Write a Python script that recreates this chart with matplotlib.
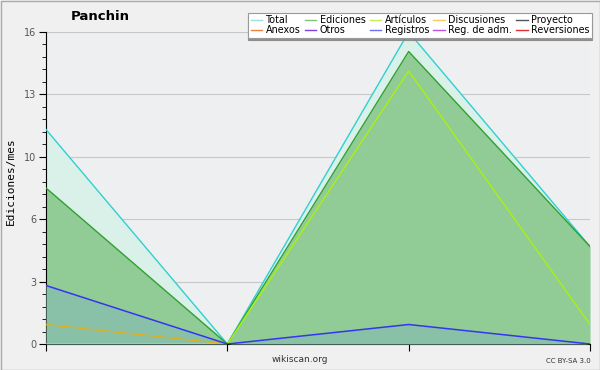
import matplotlib
matplotlib.use("Agg")
import matplotlib.pyplot as plt
from matplotlib.lines import Line2D
from matplotlib.patches import Rectangle
import numpy as np

title = "Panchin"
ylabel = "Ediciones/mes"
x = [0, 1, 2, 3]
total = [11, 0, 16, 5]
ediciones = [8, 0, 15, 5]
articulos = [0, 0, 14, 1]
discusiones = [1, 0, 0, 0]
registros = [3, 0, 1, 0]
ytick_vals = [0, 3.2, 6.4, 9.6, 12.8, 16]
ytick_labels = ["0", "3", "6", "10", "13", "16"]
legend_labels = ["Total", "Ediciones", "Artículos", "Discusiones", "Proyecto",
                 "Anexos", "Otros", "Registros", "Reg. de adm.", "Reversiones"]
legend_colors = ["#9fdfdf", "#7fc47f", "#c4ee5a", "#f4cc5a", "#555555",
                 "#f08040", "#8040e0", "#7070f0", "#c050e0", "#e03030"]

fig = plt.figure(figsize=(6, 3.7), dpi=100, facecolor="#f0f0f0")
ax = fig.add_axes([46/600, 26/370, 544/600, 312/370])
ax.set_facecolor("#eeeff1")

ax.fill_between(x, 0, total, color="#d9f1e9", zorder=1, lw=0)
ax.fill_between(x, 0, ediciones, color="#91cc96", zorder=2, lw=0)
ax.fill_between(x, 0, registros, color="#88c0a8", zorder=3, lw=0)

ax.plot(x, total, color="#30d0d0", lw=1, zorder=5)
ax.plot(x, ediciones, color="#30a030", lw=1, zorder=5)
ax.plot(x, articulos, color="#aaf010", lw=1, zorder=6)
ax.plot(x, discusiones, color="#e0b020", lw=1, zorder=6)
ax.plot(x, registros, color="#3535ee", lw=1.1, zorder=7)

ax.set_xlim(0, 3)
ax.set_ylim(0, 16)
ax.set_xticks(x)
ax.set_xticklabels([])
ax.set_yticks(ytick_vals)
ax.set_yticklabels(ytick_labels)
ax.set_yticks(np.arange(0, 16.01, 0.64), minor=True)
ax.tick_params(axis="y", which="major", length=5, labelsize=7, labelcolor="#555555", pad=2)
ax.tick_params(axis="y", which="minor", length=3)
ax.tick_params(axis="x", which="major", length=5, direction="out")
ax.grid(axis="y", which="major", color="#c8c8c8", lw=0.8, zorder=0)
ax.set_axisbelow(True)
for s in ["top", "right"]:
    ax.spines[s].set_visible(False)
ax.spines["left"].set_color("black")
ax.spines["bottom"].set_color("black")

fig.text(100/600, 1 - 17/370, title, ha="center", va="center", fontsize=9.5, fontweight="bold")
fig.text(11/600, 0.51, ylabel, rotation=90, ha="center", va="center",
         fontsize=8, family="DejaVu Sans Mono")
fig.text(300/600, 1 - 360/370, "wikiscan.org", ha="center", va="center", fontsize=6.5, color="#333333")
fig.text(568/600, 1 - 361/370, "CC BY-SA 3.0", ha="center", va="center", fontsize=5, color="#333333")

# reorder so that the column-major legend reads row by row
ncol = 5
order = [r * ncol + c for c in range(ncol) for r in range(2)]
handles = [Line2D([0], [0], color=legend_colors[i], lw=1) for i in order]
labels = [legend_labels[i] for i in order]
leg = fig.legend(handles, labels, ncol=ncol, loc="upper right",
                 bbox_to_anchor=(597/600, 1 - 8/370), fontsize=6.9,
                 handlelength=1.2, handletextpad=0.35, columnspacing=0.45,
                 labelspacing=0.0, borderpad=0.25, frameon=True, fancybox=False,
                 shadow={"ox": 0, "oy": -2, "color": "#888888", "alpha": 0.9})
leg.get_frame().set_edgecolor("#999999")
leg.get_frame().set_linewidth(0.8)
leg.set_zorder(10)

fig.patches.append(Rectangle((0.5/600, 0.5/370), 1 - 1/600, 1 - 1/370, transform=fig.transFigure,
                             fill=False, edgecolor="#aaaaaa", lw=1))

fig.savefig("out.png", dpi=100, facecolor=fig.get_facecolor())
